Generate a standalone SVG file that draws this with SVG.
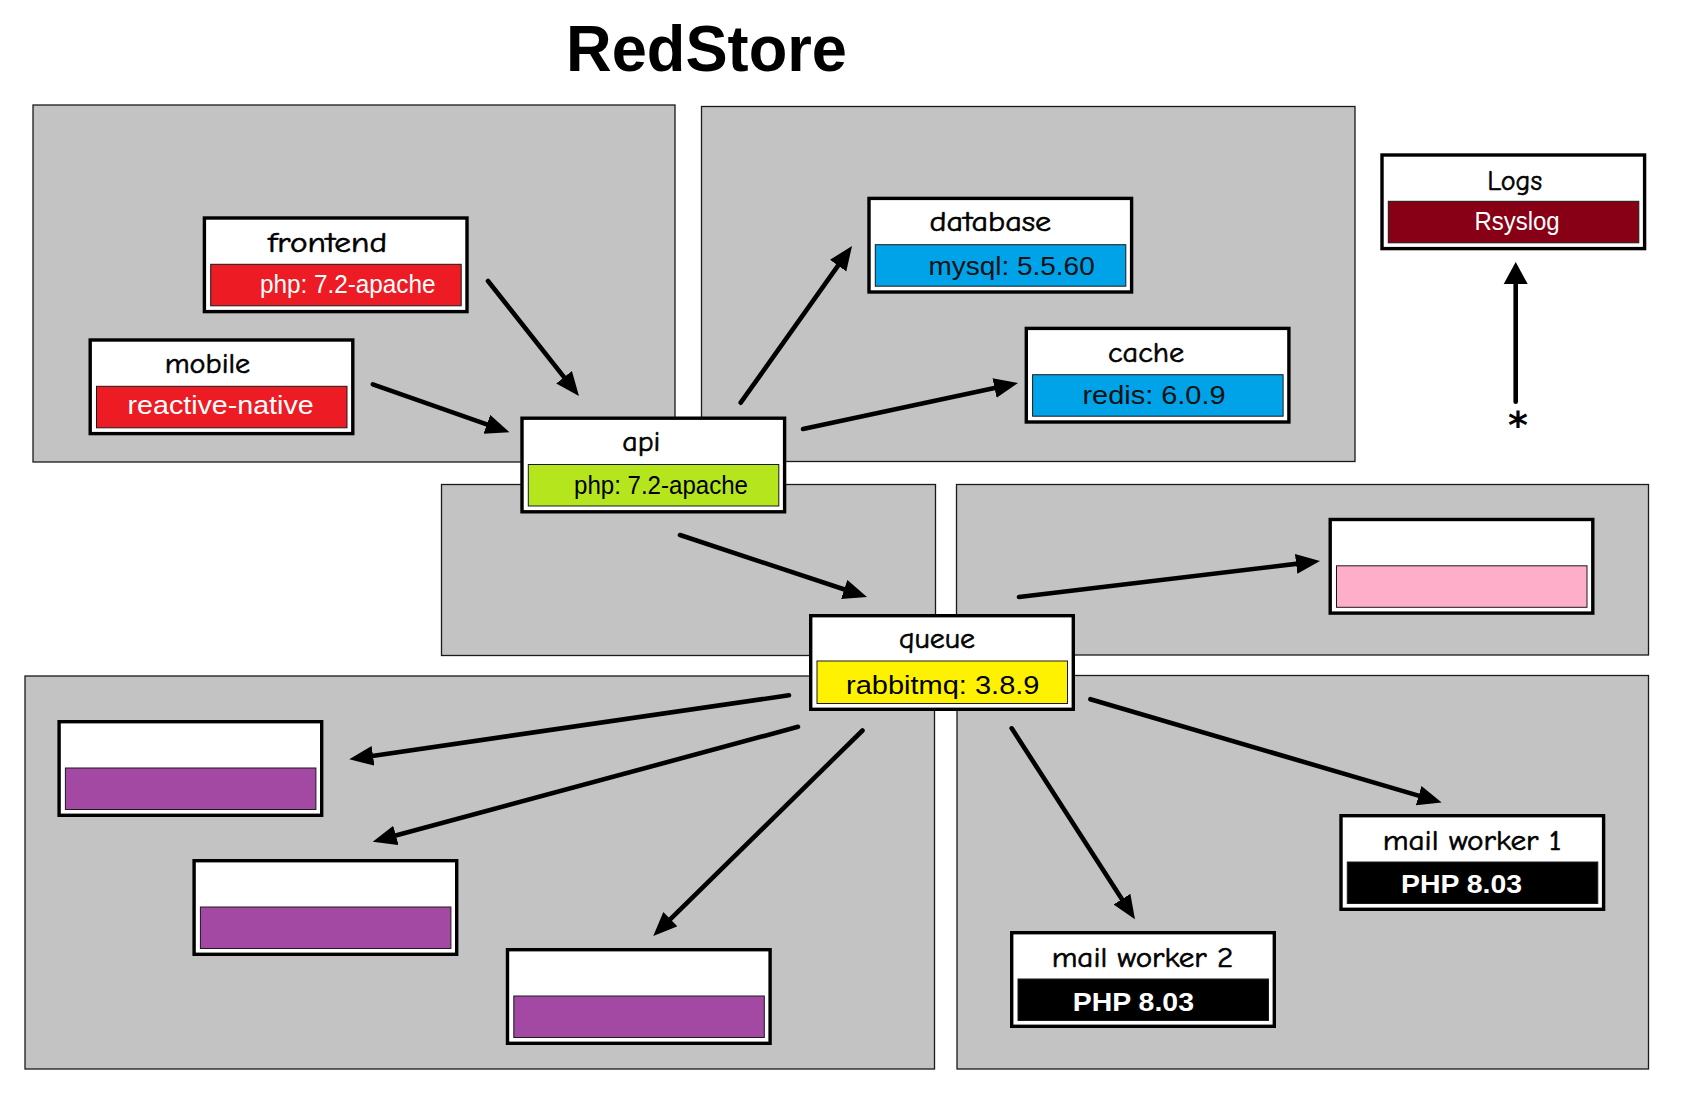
<svg xmlns="http://www.w3.org/2000/svg" width="1682" height="1094" viewBox="0 0 1682 1094">
<style>
.grp{fill:#c3c3c3;stroke:#1a1a1a;stroke-width:1.3}
.box{fill:#fff;stroke:#000;stroke-width:3.4}
.bar{stroke:#1a1a1a;stroke-width:1}
.lbl{font-family:"Comic Sans MS","Comic Neue","Noto Sans",sans-serif;font-size:28px;fill:#000;stroke:#000;stroke-width:0.6}
.bt{font-family:"Liberation Sans",Arial,sans-serif;font-size:25px}
.conn{stroke:#000;stroke-width:4.6;stroke-linecap:round;fill:none;marker-end:url(#ah)}
</style>
<defs>
<marker id="ah" markerUnits="userSpaceOnUse" markerWidth="26" markerHeight="22" refX="6" refY="10" orient="auto"><path d="M0,0 L24,10 L0,20 z" fill="#000"/></marker>
<marker id="ah2" markerUnits="userSpaceOnUse" markerWidth="26" markerHeight="28" refX="6" refY="13" orient="auto"><path d="M0,1 L22,13 L0,25 Q-3,13 0,1 z" fill="#000"/></marker>
</defs>
<rect width="1682" height="1094" fill="#fff"/>
<text x="566" y="71" font-family="'Liberation Sans',Arial,sans-serif" font-weight="bold" font-size="64" textLength="281" lengthAdjust="spacingAndGlyphs" fill="#000">RedStore</text>
<g id="groups">
<rect class="grp" x="33" y="105" width="642" height="357"/>
<rect class="grp" x="701.5" y="106.5" width="653.5" height="355"/>
<rect class="grp" x="441.5" y="484.5" width="494" height="171"/>
<rect class="grp" x="956.5" y="484.5" width="692" height="170.5"/>
<rect class="grp" x="25" y="676" width="909.5" height="393"/>
<rect class="grp" x="957" y="675.5" width="691.5" height="393.5"/>
</g>
<g id="connectors">
<path class="conn" d="M488,281 L567.8,381.9"/>
<path class="conn" d="M372.8,384.3 L492.5,426.3"/>
<path class="conn" d="M740.7,402.7 L841.6,260.7"/>
<path class="conn" d="M803,429 L1000.4,386.8"/>
<path class="conn" d="M1515.7,401.7 L1515.7,278" style="marker-end:url(#ah2)"/>
<path class="conn" d="M680,535 L849.9,591.3"/>
<path class="conn" d="M1019,597 L1302.1,563.1"/>
<path class="conn" d="M789,695.3 L367.1,756.7"/>
<path class="conn" d="M798,726.8 L390.1,837"/>
<path class="conn" d="M862.5,730.5 L666.1,923.4"/>
<path class="conn" d="M1090.4,699.2 L1424.4,797.4"/>
<path class="conn" d="M1011.7,728.3 L1125.2,904.2"/>
<text x="1518" y="438" text-anchor="middle" font-family="'DejaVu Sans',sans-serif" font-weight="bold" font-size="38" fill="#000">*</text>
</g>
<g id="frontend" transform="translate(202.7,216.3)">
<rect class="box" x="1.7" y="1.7" width="262.6" height="93.6"/>
<rect class="bar" x="8" y="48" width="250.5" height="41.5" fill="#ed1c24"/>
<text class="lbl" x="65.3" y="35.7" textLength="119" lengthAdjust="spacingAndGlyphs">frontend</text>
<text class="bt" x="57.3" y="77" fill="#fff" textLength="175.5" lengthAdjust="spacingAndGlyphs">php: 7.2-apache</text>
</g>
<g id="mobile" transform="translate(88.5,338.3)">
<rect class="box" x="1.7" y="1.7" width="262.6" height="93.6"/>
<rect class="bar" x="8" y="48" width="250.5" height="41.5" fill="#ed1c24"/>
<text class="lbl" x="76.2" y="34.7" textLength="85.5" lengthAdjust="spacingAndGlyphs">mobile</text>
<text class="bt" x="39.1" y="75.5" fill="#fff" font-size="26" textLength="186" lengthAdjust="spacingAndGlyphs">reactive-native</text>
</g>
<g id="api" transform="translate(520.3,416.5)">
<rect class="box" x="1.7" y="1.7" width="262.6" height="93.6"/>
<rect class="bar" x="8" y="48" width="250.5" height="41.5" fill="#b5e61d"/>
<text class="lbl" x="102" y="34.5" textLength="38" lengthAdjust="spacingAndGlyphs">api</text>
<text class="bt" x="53.7" y="77.5" fill="#000" textLength="174" lengthAdjust="spacingAndGlyphs">php: 7.2-apache</text>
</g>
<g id="database" transform="translate(867.3,196.7)">
<rect class="box" x="1.7" y="1.7" width="262.6" height="93.6"/>
<rect class="bar" x="8" y="48" width="250.5" height="41.5" fill="#00a2e8"/>
<text class="lbl" x="62.2" y="34.3" textLength="121.7" lengthAdjust="spacingAndGlyphs">database</text>
<text class="bt" x="61.1" y="78.6" fill="#111" font-size="27" textLength="166.3" lengthAdjust="spacingAndGlyphs">mysql: 5.5.60</text>
</g>
<g id="cache" transform="translate(1024.6,326.7)">
<rect class="box" x="1.7" y="1.7" width="262.6" height="93.6"/>
<rect class="bar" x="8" y="48" width="250.5" height="41.5" fill="#00a2e8"/>
<text class="lbl" x="83.4" y="35.6" textLength="76.3" lengthAdjust="spacingAndGlyphs">cache</text>
<text class="bt" x="57.8" y="77.5" fill="#111" font-size="28" textLength="143.2" lengthAdjust="spacingAndGlyphs">redis: 6.0.9</text>
</g>
<g id="logs" transform="translate(1380.3,153.3)">
<rect class="box" x="1.7" y="1.7" width="262.6" height="93.6"/>
<rect class="bar" x="8" y="48" width="250.5" height="41.5" fill="#880015"/>
<text class="lbl" x="107" y="36.7" textLength="54.7" lengthAdjust="spacingAndGlyphs">Logs</text>
<text class="bt" x="94.1" y="76.7" fill="#fff" font-size="24" textLength="85.3" lengthAdjust="spacingAndGlyphs">Rsyslog</text>
</g>
<g id="queue" transform="translate(809,614)">
<rect class="box" x="1.7" y="1.7" width="262.6" height="93.6"/>
<rect class="bar" x="8" y="47" width="250.5" height="42.5" fill="#fff200" stroke="none"/>
<text class="lbl" x="90" y="34.4" textLength="76" lengthAdjust="spacingAndGlyphs">queue</text>
<text class="bt" x="37" y="80" fill="#000" font-size="28" textLength="193.5" lengthAdjust="spacingAndGlyphs">rabbitmq: 3.8.9</text>
</g>
<g id="pink-node" transform="translate(1328.5,517.8)">
<rect class="box" x="1.7" y="1.7" width="262.6" height="93.6"/>
<rect class="bar" x="8" y="48" width="250.5" height="41.5" fill="#ffaec9"/>
</g>
<g id="purple-node-1" transform="translate(57.4,720)">
<rect class="box" x="1.7" y="1.7" width="262.6" height="93.6"/>
<rect class="bar" x="8" y="48" width="250.5" height="41.5" fill="#a349a4"/>
</g>
<g id="purple-node-2" transform="translate(192.4,859)">
<rect class="box" x="1.7" y="1.7" width="262.6" height="93.6"/>
<rect class="bar" x="8" y="48" width="250.5" height="41.5" fill="#a349a4"/>
</g>
<g id="purple-node-3" transform="translate(505.8,948)">
<rect class="box" x="1.7" y="1.7" width="262.6" height="93.6"/>
<rect class="bar" x="8" y="48" width="250.5" height="41.5" fill="#a349a4"/>
</g>
<g id="mail-worker-1" transform="translate(1339.3,814)">
<rect class="box" x="1.7" y="1.7" width="262.6" height="93.6"/>
<rect class="bar" x="8" y="48" width="250.5" height="41.5" fill="#000"/>
<text class="lbl" x="43.4" y="35.5" textLength="178.6" lengthAdjust="spacingAndGlyphs">mail worker 1</text>
<text class="bt" x="61.7" y="79" fill="#fff" font-size="28" font-weight="bold" textLength="121" lengthAdjust="spacingAndGlyphs">PHP 8.03</text>
</g>
<g id="mail-worker-2" transform="translate(1010,931)">
<rect class="box" x="1.7" y="1.7" width="262.6" height="93.6"/>
<rect class="bar" x="8" y="48" width="250.5" height="41.5" fill="#000"/>
<text class="lbl" x="41.7" y="36.3" textLength="181.6" lengthAdjust="spacingAndGlyphs">mail worker 2</text>
<text class="bt" x="62.7" y="80" fill="#fff" font-size="28" font-weight="bold" textLength="121.3" lengthAdjust="spacingAndGlyphs">PHP 8.03</text>
</g>
</svg>
